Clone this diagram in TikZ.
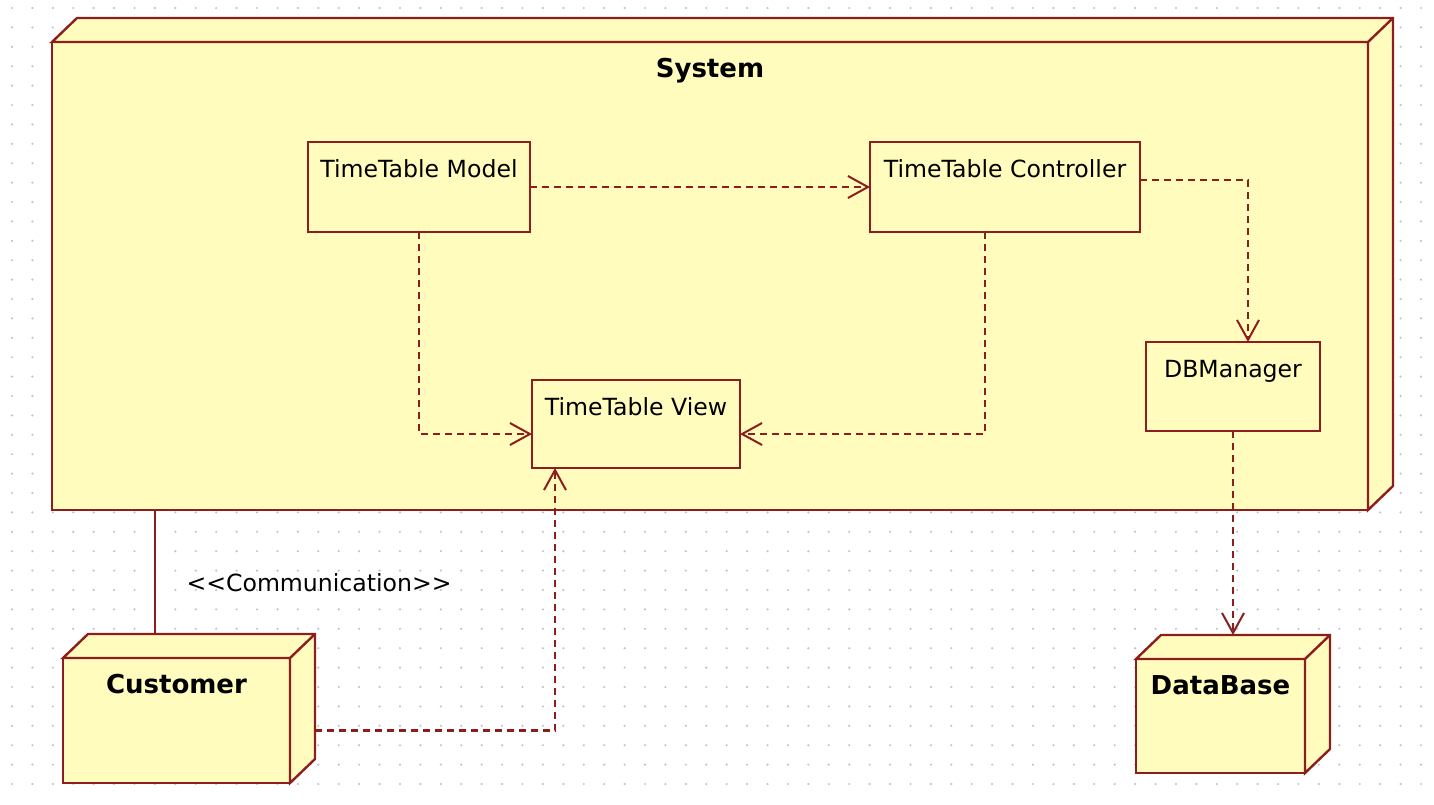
\documentclass[tikz,border=0pt]{standalone}
\usepackage{fontspec}
\setmainfont{DejaVu Sans}
\usetikzlibrary{arrows.meta,calc}
\definecolor{umlline}{RGB}{140,30,30}
\definecolor{umlfill}{RGB}{255,252,190}
\definecolor{griddot}{RGB}{195,195,195}

% side and top faces of a deployment node
\newcommand{\nodefaces}[1]{%
	\filldraw[umlbox] (#1.north west) -- ++(25,-24) -- ($(#1.north east)+(25,-24)$)
		-- ($(#1.south east)+(25,-24)$) -- (#1.south east) -- (#1.north east) -- cycle;
	\draw[umlbox] (#1.north east) -- ++(25,-24);
	\coordinate (#1-top) at ($(#1.north)+(25,-24)$);
	\coordinate (#1-side) at ($(#1.east)+(25,0)$);
}

\begin{document}
\begin{tikzpicture}[x=1pt,y=-1pt,
		font=\fontsize{23.6}{28}\selectfont,
		umlbox/.style={draw=umlline,fill=umlfill,line width=2.4pt,outer sep=0pt,inner sep=0pt},
		heading/.style={label={[anchor=north,inner sep=0pt,text height=18pt,yshift=-17pt]north:#1}},
		nodeheading/.style={label={[anchor=north,inner sep=0pt,text height=18pt,yshift=-17pt,
			font=\fontsize{26}{30}\selectfont\bfseries]north:#1}},
		dep/.style={draw=umlline,line width=2.4pt,dash pattern=on 7pt off 5pt,
			-{Straight Barb[length=20pt,width=22pt,line width=2pt]}},
		assoc/.style={draw=umlline,line width=2.4pt}]
	\useasboundingbox (0,0) rectangle (1434,804);
	%
	\foreach \i in {0,...,69}
		\foreach \j in {0,...,40}
			\fill[griddot] (12+\i*20.42,8+\j*19.4) circle (1.2);
	%
	\node[umlbox,minimum width=1316pt,minimum height=468pt,nodeheading=System] (system) at (710,276) {};
	\nodefaces{system}
	\node[umlbox,minimum width=227pt,minimum height=125pt,nodeheading=Customer] (customer) at (176.5,720.5) {};
	\nodefaces{customer}
	\node[umlbox,minimum width=169pt,minimum height=114pt,nodeheading=DataBase] (database) at (1220.5,716) {};
	\nodefaces{database}
	%
	\node[umlbox,minimum width=222pt,minimum height=90pt,heading=TimeTable Model] (model) at (419,187) {};
	\node[umlbox,minimum width=270pt,minimum height=90pt,heading=TimeTable Controller] (ctrl) at (1005,187) {};
	\node[umlbox,minimum width=208pt,minimum height=88pt,heading=TimeTable View] (view) at (636,424) {};
	\node[umlbox,minimum width=174pt,minimum height=89pt,heading=DBManager] (dbm) at (1233,386.5) {};
	%
	\draw[dep] (model) -- (ctrl);
	\draw[dep] ([yshift=7pt]ctrl.east) -| ([xshift=15pt]dbm.north);
	\draw[dep] (model.south) |- ([yshift=-10pt]view.west);
	\draw[dep] ([xshift=-20pt]ctrl.south) |- ([yshift=-10pt]view.east);
	\draw[dep] (dbm.south) -- (dbm.south |- database-top);
	\draw[dep] ([yshift=-10pt]customer-side) -| ([xshift=-81pt]view.south);
	%
	\coordinate (comm) at ([xshift=103pt]system.south west);
	\draw[assoc] (comm) -- node[pos=0.59,right=27pt] {<{}<Communication>{}>} (comm |- customer-top);
\end{tikzpicture}
\end{document}
